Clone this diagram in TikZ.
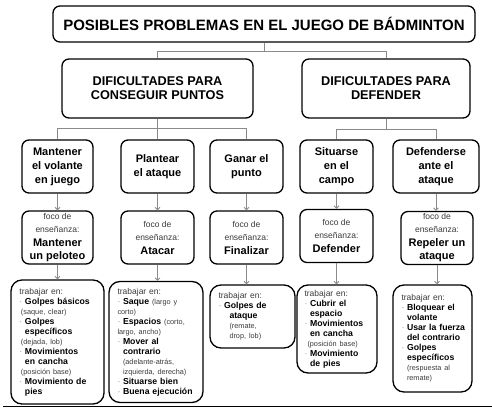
\documentclass[tikz,border=0pt]{standalone}
\usepackage{fontspec}
\setmainfont{Liberation Sans}
\usetikzlibrary{arrows.meta}
\hyphenpenalty=10000
\exhyphenpenalty=10000
\definecolor{txtgray}{HTML}{3A3A3A}
\definecolor{bulgray}{HTML}{888888}
\definecolor{conngray}{HTML}{8A8A8A}
\definecolor{baseline}{HTML}{2B3845}
\newcommand\tbj{{\fontsize{8.5}{10}\mdseries\selectfont\color{txtgray}trabajar~en:}}
\newcommand\bul{\makebox[5.5pt][l]{\textcolor{bulgray}{\mdseries·}}}
\newcommand\ind{\hspace*{5.5pt}}
\newcommand\pa[1]{{\fontsize{7.3}{10}\mdseries\selectfont\color{txtgray}#1}}
\newcommand\fc[1]{{\fontsize{8.5}{10}\mdseries\selectfont\color{txtgray}#1}}
\begin{document}
\begin{tikzpicture}[x=1pt,y=-1pt,
  box/.style={draw, line width=1.3pt, rounded corners=7pt, align=center, inner sep=0pt, font=\bfseries},
  wbox/.style={draw, line width=1.3pt, rounded corners=11pt, align=left, inner sep=0pt,
    font=\fontsize{8.7}{10}\bfseries\selectfont},
  conn/.style={draw=conngray, line width=0.8pt},
  arr/.style={conn, -{Straight Barb[length=2.5pt,width=5pt]}}
]
\useasboundingbox (0,0) rectangle (492,409);
% title
\node[box, minimum width=422pt, minimum height=36pt, font=\fontsize{15}{18}\bfseries\selectfont] (t) at (264,24) {POSIBLES PROBLEMAS EN EL JUEGO DE BÁDMINTON};
% level 2
\node[box, minimum width=191pt, minimum height=59pt, font=\fontsize{12.7}{14}\bfseries\selectfont] (a) at (157.5,88.5) {DIFICULTADES PARA\\CONSEGUIR PUNTOS};
\node[box, minimum width=168pt, minimum height=59pt, font=\fontsize{12.7}{14}\bfseries\selectfont] (b) at (386,88.5) {DIFICULTADES PARA\\DEFENDER};
% level 3
\tikzset{l3/.style={box, minimum height=53pt, font=\fontsize{11}{14}\bfseries\selectfont}}
\node[l3, minimum width=71pt] (a1) at (57.5,166.5) {Mantener\\el volante\\en juego};
\node[l3, minimum width=73pt] (a2) at (157.5,166.5) {Plantear\\el ataque};
\node[l3, minimum width=73pt] (a3) at (246.5,166.5) {Ganar el\\punto};
\node[l3, minimum width=73pt] (b1) at (336.5,166.5) {Situarse\\en el\\campo};
\node[l3, minimum width=86pt] (b2) at (436,166.5) {Defenderse\\ante el\\ataque};
% level 4
\tikzset{l4/.style={box, minimum height=53pt, font=\fontsize{11}{13}\bfseries\selectfont}}
\node[l4, minimum width=71pt] (f1) at (57.5,237.5) {\fc{foco de}\\\fc{enseñanza:}\\[1pt]Mantener\\un peloteo};
\node[l4, minimum width=73pt] (f2) at (157.5,237.5) {\fc{foco de}\\\fc{enseñanza:}\\[1pt]Atacar};
\node[l4, minimum width=73pt] (f3) at (246.5,237.5) {\fc{foco de}\\\fc{enseñanza:}\\[1pt]Finalizar};
\node[l4, minimum width=73pt] (f4) at (336.5,236) {\fc{foco de}\\\fc{enseñanza:}\\[1pt]Defender};
\node[l4, minimum width=72pt] (f5) at (437,238) {\fc{foco de}\\\fc{enseñanza:}\\[1pt]Repeler un\\ataque};
% level 5
\node[wbox, minimum width=93pt, minimum height=124pt, text width=76pt] (w1) at (57.5,342) {%
\tbj\\
\bul Golpes~básicos\\
\hspace*{1.5pt}\pa{(saque, clear)}\\
\bul Golpes\\
\ind específicos\\
\hspace*{1.5pt}\pa{(dejada, lob)}\\
\bul Movimientos\\
\ind en~cancha\\
\hspace*{1.5pt}\pa{(posición~base)}\\
\bul Movimiento~de\\
\ind pies};
\node[wbox, minimum width=94pt, minimum height=121pt, text width=77pt] (w2) at (156,342) {%
\tbj\\
\bul Saque~\pa{(largo~y}\\
\pa{corto)}\\
\bul Espacios~\pa{(corto,}\\
\pa{largo, ancho)}\\
\bul Mover~al\\
\ind contrario\\
\ind\pa{(adelante-atrás,}\\
\ind\pa{izquierda,~derecha)}\\
\bul Situarse~bien\\
\bul Buena~ejecución};
\node[wbox, minimum width=85pt, minimum height=63pt, text width=68pt] (w3) at (252.5,316.5) {%
\tbj\\
\bul Golpes~de\\
\hspace*{11pt}ataque\\
\hspace*{11pt}\pa{(remate,}\\
\hspace*{11pt}\pa{drop,~lob)}};
\node[wbox, minimum width=80pt, minimum height=88pt, text width=65pt] (w4) at (337,329) {%
\tbj\\
\bul Cubrir~el\\
\ind espacio\\
\bul Movimientos\\
\ind en~cancha\\
\hspace*{3pt}\pa{(posición~base)}\\
\bul Movimiento\\
\ind de~pies};
\node[wbox, minimum width=79pt, minimum height=107pt, text width=62pt] (w5) at (432.5,338.5) {%
\tbj\\
\bul Bloquear~el\\
\ind volante\\
\bul Usar~la~fuerza\\
\ind del~contrario\\
\bul Golpes\\
\ind específicos\\
\ind\pa{(respuesta~al}\\
\ind\pa{remate)}};
% connectors level 1 -> 2
\draw[conn] (t.south) -- (t.south |- 0,51) -| (a.north);
\draw[conn] (t.south |- 0,51) -| (b.north);
% level 2 -> 3
\draw[conn] (a.south) -- (a.south |- 0,128) -| (a1.north);
\draw[conn] (a.south |- 0,128) -| (a3.north);
\draw[conn] (a.south |- 0,128) -- (a2.north);
\draw[conn] (b.south) -- (b.south |- 0,129) -| (b1.north);
\draw[conn] (b.south |- 0,129) -| (b2.north);
% level 3 -> 4
\foreach \u/\v in {a1/f1,a2/f2,a3/f3,b1/f4,b2/f5}{\draw[arr] (\u.south) -- (\u.south |- \v.north);}
% level 4 -> 5
\draw[arr] (f1.south) -- (f1.south |- w1.north);
\draw[arr] (f2.south) -- (f2.south |- w2.north);
\draw[arr] (f3.south) -- (f3.south |- w3.north);
\draw[arr] (f4.south) -- (f4.south |- w4.north);
\draw[arr] (f5.south) -- (f5.south |- w5.north);
% bottom rule
\draw[baseline, line width=1.6pt] (3,406.5) -- (492,406.5);
\end{tikzpicture}
\end{document}
